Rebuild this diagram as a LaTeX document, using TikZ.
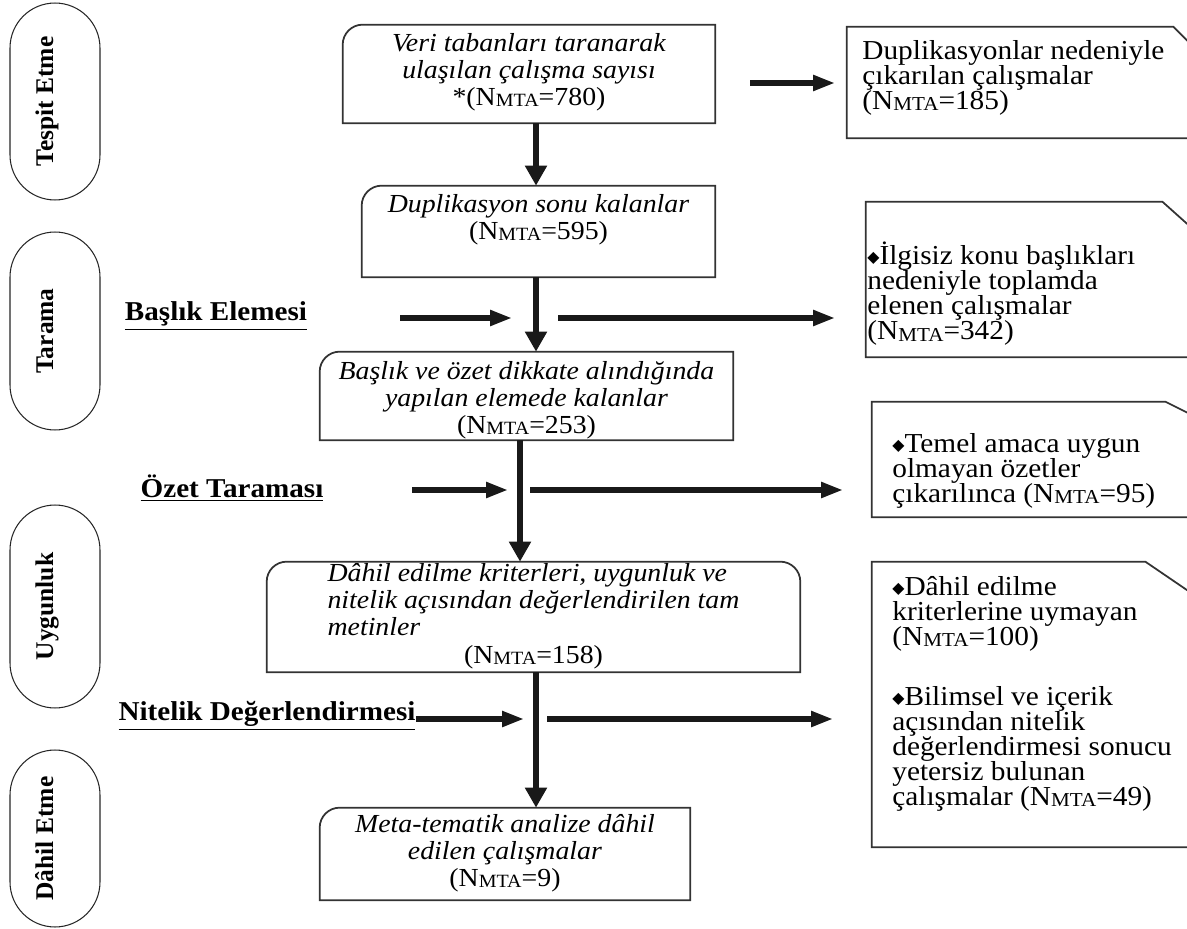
\documentclass[tikz,border=0pt]{standalone}
\usepackage{fontspec}
\setmainfont{Liberation Serif}[FakeStretch=1.07]
\newfontfamily\sidefont{Liberation Serif}
\newfontfamily\symfont{DejaVu Sans}
\usetikzlibrary{arrows.meta}
\newcommand{\nmta}[1]{(N\raisebox{-0.1ex}{\scalebox{0.72}{MTA}}=#1)}
\newcommand{\dmd}{{\symfont\fontsize{9}{9}\selectfont\raisebox{0.25ex}{◆}}}
\tikzset{
  stage/.style={draw=black!85, line width=0.6pt, rounded corners=0.9cm, minimum height=1.8cm, rotate=90, inner sep=0pt, text height=0.36cm, text depth=0.44cm, font=\sidefont\bfseries\fontsize{14.5}{14.5}\selectfont},
  boxline/.style={draw=black!80, line width=1pt},
  frame/.style={inner sep=0pt},
  maintext/.style={align=center, inner sep=0pt, font=\fontsize{14.8}{15.3}\selectfont},
  sidetext/.style={align=left, inner sep=0pt, anchor=north west, font=\fontsize{15.6}{14.2}\selectfont},
  steplabel/.style={inner sep=0pt, font=\bfseries\fontsize{15.5}{16}\selectfont},
  vflow/.style={line width=3.2pt, draw=black!90, -{Triangle[length=0.4cm,width=0.42cm]}},
  hflow/.style={line width=3pt, draw=black!90, -{Triangle[length=0.44cm,width=0.3cm]}}
}
\begin{document}
\begin{tikzpicture}[x=0.02cm,y=-0.02cm]
\useasboundingbox (0,0) rectangle (1187,929);
\clip (0,0) rectangle (1187,929);
\node[stage, minimum width=3.94cm] (s1) at (55,101.5) {Tespit Etme};
\node[stage, minimum width=3.96cm] (s2) at (55,331) {Tarama};
\node[stage, minimum width=4.06cm] (s3) at (55,606.5) {Uygunluk};
\node[stage, minimum width=3.54cm] (s4) at (55,838.5) {Dâhil Etme};
\node[frame, minimum width=7.44cm, minimum height=1.96cm] (b1) at (529,74) {};
\node[frame, minimum width=7.06cm, minimum height=1.82cm] (b2) at (538.5,231.5) {};
\node[frame, minimum width=8.26cm, minimum height=1.76cm] (b3) at (526.5,396) {};
\node[frame, minimum width=10.66cm, minimum height=2.2cm] (b4) at (533.5,617) {};
\node[frame, minimum width=7.4cm, minimum height=1.84cm] (b5) at (505,854) {};
\draw[boxline] (b1.south west) -- ([yshift=-0.4cm]b1.north west) arc[start angle=180, end angle=90, radius=0.4cm] -- (b1.north east) -- (b1.south east) -- cycle;
\draw[boxline] (b2.south west) -- ([yshift=-0.4cm]b2.north west) arc[start angle=180, end angle=90, radius=0.4cm] -- (b2.north east) -- (b2.south east) -- cycle;
\draw[boxline] (b3.south west) -- ([yshift=-0.4cm]b3.north west) arc[start angle=180, end angle=90, radius=0.4cm] -- (b3.north east) -- (b3.south east) -- cycle;
\draw[boxline] (b4.south west) -- ([yshift=-0.4cm]b4.north west) arc[start angle=180, end angle=90, radius=0.4cm] -- ([xshift=-0.4cm]b4.north east) arc[start angle=90, end angle=0, radius=0.4cm] -- (b4.south east) -- cycle;
\draw[boxline] (b5.south west) -- ([yshift=-0.4cm]b5.north west) arc[start angle=180, end angle=90, radius=0.4cm] -- (b5.north east) -- (b5.south east) -- cycle;
\node[maintext] (t1) at (529,72) {\textit{Veri tabanları taranarak}\\\textit{ulaşılan çalışma sayısı}\\*\nmta{780}};
\node[maintext] (t2) at (538.5,220) {\textit{Duplikasyon sonu kalanlar}\\\nmta{595}};
\node[maintext] (t3) at (526.5,400) {\textit{Başlık ve özet dikkate alındığında}\\\textit{yapılan elemede kalanlar}\\\nmta{253}};
\node[maintext] (t4) at (533.5,616) {\begin{tabular}{@{}l@{}}\textit{Dâhil edilme kriterleri, uygunluk ve}\\\textit{nitelik açısından değerlendirilen tam}\\\textit{metinler}\end{tabular}\\\nmta{158}};
\node[maintext] (t5) at (505,853) {\textit{Meta-tematik analize dâhil}\\\textit{edilen çalışmalar}\\\nmta{9}};
\node[frame, minimum width=7.06cm, minimum height=2.22cm] (r1) at (1023.5,82.5) {};
\node[frame, minimum width=6.68cm, minimum height=3.1cm] (r2) at (1033,279.5) {};
\node[frame, minimum width=6.56cm, minimum height=2.3cm] (r3) at (1036,459.5) {};
\node[frame, minimum width=6.56cm, minimum height=5.7cm] (r4) at (1036,704.5) {};
\draw[boxline] (r1.south west) -- (r1.north west) -- ([xshift=-0.54cm]r1.north east) -- ([yshift=-0.54cm]r1.north east) -- (r1.south east) -- cycle;
\draw[boxline] (r2.south west) -- (r2.north west) -- ([xshift=-0.76cm]r2.north east) -- ([yshift=-0.68cm]r2.north east) -- (r2.south east) -- cycle;
\draw[boxline] (r3.south west) -- (r3.north west) -- ([xshift=-0.7cm]r3.north east) -- ([yshift=-0.35cm]r3.north east) -- (r3.south east) -- cycle;
\draw[boxline] (r4.south west) -- (r4.north west) -- ([xshift=-1.1cm]r4.north east) -- ([yshift=-0.75cm]r4.north east) -- (r4.south east) -- cycle;
\node[sidetext] (u1) at (862,40) {Duplikasyonlar nedeniyle\\çıkarılan çalışmalar\\\nmta{185}};
\node[sidetext] (u2) at (867,242) {\dmd İlgisiz konu başlıkları\\nedeniyle toplamda\\elenen çalışmalar\\\nmta{342}};
\node[sidetext] (u3) at (892,433) {\dmd Temel amaca uygun\\olmayan özetler\\çıkarılınca \nmta{95}};
\node[sidetext] (u4) at (892,576) {\dmd Dâhil edilme\\kriterlerine uymayan\\\nmta{100}\\[20pt]\dmd Bilimsel ve içerik\\açısından nitelik\\değerlendirmesi sonucu\\yetersiz bulunan\\çalışmalar \nmta{49}};
\node[steplabel] (l1) at (216,316) {\underline{Başlık Elemesi}};
\node[steplabel] (l2) at (232,488) {\underline{Özet Taraması}};
\node[steplabel] (l3) at (267,716) {\underline{Nitelik Değerlendirmesi}};
\coordinate (m) at (536,0);
\coordinate (n) at (520,0);
\draw[vflow] (m |- b1.south) -- (m |- b2.north);
\draw[vflow] (m |- b2.south) -- (m |- b3.north);
\draw[vflow] (n |- b3.south) -- (n |- b4.north);
\draw[vflow] (m |- b4.south) -- (m |- b5.north);
\coordinate (h1a) at (750,83);
\coordinate (h1b) at (835,83);
\coordinate (h2a) at (400,318);
\coordinate (h2b) at (512,318);
\coordinate (h2c) at (558,318);
\coordinate (h2d) at (835,318);
\coordinate (h3a) at (412,490);
\coordinate (h3b) at (508,490);
\coordinate (h3c) at (530,490);
\coordinate (h3d) at (843,490);
\coordinate (h4b) at (524,719);
\coordinate (h4c) at (547,719);
\coordinate (h4d) at (833,719);
\draw[hflow] (h1a) -- (h1b);
\draw[hflow] (h2a) -- (h2b);
\draw[hflow] (h2c) -- (h2d);
\draw[hflow] (h3a) -- (h3b);
\draw[hflow] (h3c) -- (h3d);
\draw[hflow] (l3.east |- h4b) -- (h4b);
\draw[hflow] (h4c) -- (h4d);
\end{tikzpicture}
\end{document}
